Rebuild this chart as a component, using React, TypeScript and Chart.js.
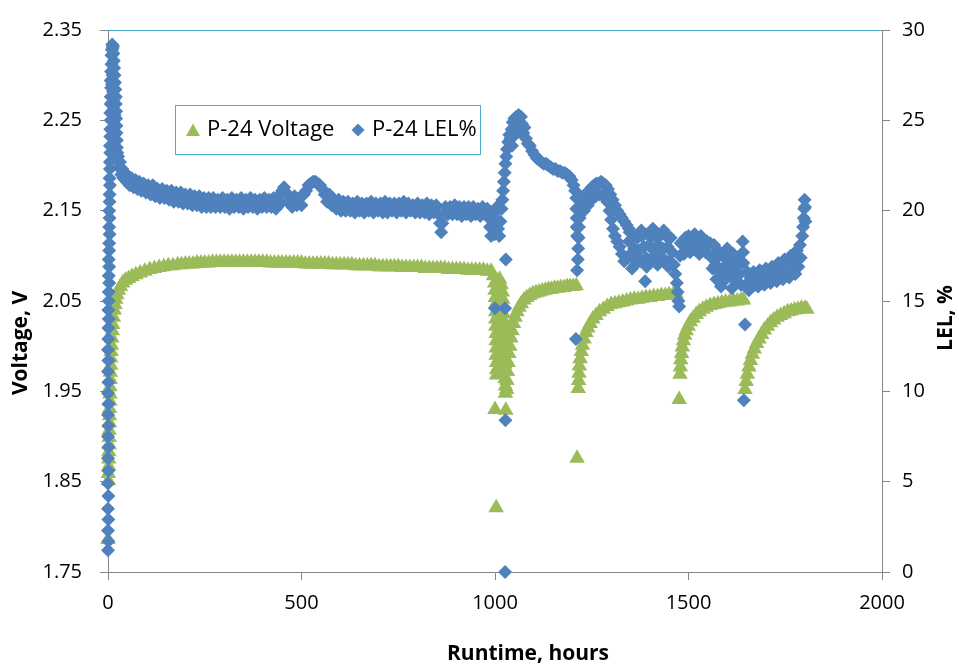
import React, { useEffect, useRef } from 'react';
import { Chart, registerables } from 'chart.js';

Chart.register(...registerables);

const GREEN = '#9BBB59';
const BLUE = '#4F81BD';
const AXIS = '#868686';
const FRAME = '#4BACC6';
const FONT = "'Open Sans', 'Liberation Sans', sans-serif";

const seriesNames = ['P-24 Voltage', 'P-24 LEL%'];
const xTitle = 'Runtime, hours';
const yTitle = 'Voltage, V';
const y1Title = 'LEL, %';
const runtimeTicks = [0, 500, 1000, 1500, 2000];
const voltageTicks = [1.75, 1.85, 1.95, 2.05, 2.15, 2.25, 2.35];
const lelTicks = [0, 5, 10, 15, 20, 25, 30];

// [runtime hours, voltage V]
const voltagePoints: [number, number][] = [
  [0, 1.786],
  [1, 1.851], [1, 1.859], [2, 1.867], [2, 1.875], [2, 1.883], [3, 1.891], [3, 1.899], [3, 1.907],
  [4, 1.915], [4, 1.923], [4, 1.931], [5, 1.939], [5, 1.947], [5, 1.955], [6, 1.963], [6, 1.971],
  [7, 1.979], [7, 1.987], [8, 1.994], [9, 2.001], [10, 2.009], [11, 2.017], [12, 2.024], [14, 2.032],
  [16, 2.04], [18, 2.046], [20, 2.052], [23, 2.057], [27, 2.062], [32, 2.066], [38, 2.07], [45, 2.073],
  [53, 2.075], [62, 2.077], [72, 2.079], [83, 2.081], [95, 2.083], [108, 2.085], [120, 2.086],
  [132, 2.087], [144, 2.088], [156, 2.089], [168, 2.089], [180, 2.09], [190, 2.09],
  [200, 2.091], [210, 2.091], [220, 2.091], [230, 2.092], [240, 2.092], [250, 2.092], [260, 2.092],
  [270, 2.093], [280, 2.093], [290, 2.093], [300, 2.093], [310, 2.093], [320, 2.093], [330, 2.093],
  [340, 2.093], [350, 2.093], [360, 2.093], [370, 2.093], [380, 2.093], [390, 2.093], [400, 2.093],
  [410, 2.093], [420, 2.092], [430, 2.092], [440, 2.092], [450, 2.092], [460, 2.092], [470, 2.092],
  [480, 2.092], [490, 2.092], [500, 2.092], [510, 2.091], [520, 2.091], [530, 2.091], [540, 2.091],
  [550, 2.091], [560, 2.091], [570, 2.091], [580, 2.09], [590, 2.09], [600, 2.09], [610, 2.09],
  [620, 2.09], [630, 2.09], [640, 2.089], [650, 2.089], [660, 2.089], [670, 2.089], [680, 2.089],
  [690, 2.089], [700, 2.088], [710, 2.088], [720, 2.088], [730, 2.088], [740, 2.088], [750, 2.088],
  [760, 2.087], [770, 2.087], [780, 2.087], [790, 2.087], [800, 2.087], [810, 2.087], [820, 2.086],
  [830, 2.086], [840, 2.086], [850, 2.086], [860, 2.086], [870, 2.086], [880, 2.085], [890, 2.085],
  [900, 2.085], [910, 2.085], [920, 2.085], [930, 2.084], [940, 2.084], [950, 2.084], [960, 2.084],
  [970, 2.084], [980, 2.083], [990, 2.083],
  [996, 2.078], [999, 2.07], [1000, 2.062], [1001, 2.054], [1001, 2.046], [1002, 2.038], [1002, 2.03],
  [1002, 2.022], [1003, 2.014], [1003, 2.006], [1003, 1.998], [1003, 1.99], [1004, 1.982], [1004, 1.974],
  [1004, 1.968], [1000, 1.93], [1003, 1.821],
  [1008, 2.072], [1010, 2.056], [1012, 2.04], [1013, 2.024], [1014, 2.008], [1015, 1.992],
  [1012, 2.074], [1016, 2.068], [1019, 2.06], [1020, 2.052], [1021, 2.044], [1022, 2.036], [1022, 2.028],
  [1023, 2.02], [1023, 2.012], [1024, 2.004], [1024, 1.996], [1025, 1.988], [1025, 1.98], [1026, 1.972],
  [1026, 1.964], [1027, 1.956], [1027, 1.948], [1028, 1.929],
  [1030, 1.952], [1031, 1.962], [1032, 1.972], [1034, 1.982], [1036, 1.992], [1038, 2.0], [1041, 2.009],
  [1044, 2.017], [1048, 2.025], [1052, 2.032], [1057, 2.038], [1062, 2.043], [1068, 2.047], [1075, 2.051],
  [1082, 2.054], [1090, 2.056], [1098, 2.058], [1106, 2.059], [1114, 2.06], [1122, 2.061], [1130, 2.062],
  [1138, 2.063], [1146, 2.063], [1154, 2.064], [1162, 2.064], [1170, 2.065], [1178, 2.065], [1186, 2.066],
  [1194, 2.066], [1202, 2.066], [1210, 2.067],
  [1212, 1.876],
  [1215, 1.953], [1216, 1.962], [1217, 1.97], [1218, 1.978], [1220, 1.986], [1223, 1.994], [1226, 2.001],
  [1230, 2.008], [1235, 2.015], [1240, 2.02], [1246, 2.025], [1253, 2.03], [1261, 2.034], [1270, 2.038],
  [1280, 2.041], [1290, 2.044], [1300, 2.046], [1310, 2.047], [1320, 2.048], [1330, 2.049], [1340, 2.05],
  [1350, 2.051], [1360, 2.052], [1370, 2.052], [1380, 2.053], [1390, 2.054], [1400, 2.054], [1410, 2.055],
  [1420, 2.055], [1430, 2.056], [1440, 2.056], [1450, 2.057], [1460, 2.057], [1468, 2.058],
  [1476, 1.941],
  [1478, 1.969], [1479, 1.977], [1480, 1.985], [1482, 1.992], [1484, 1.999], [1487, 2.006], [1490, 2.012],
  [1494, 2.017], [1499, 2.022], [1505, 2.027], [1512, 2.031], [1520, 2.035], [1528, 2.038], [1537, 2.041],
  [1546, 2.043], [1556, 2.045], [1566, 2.046], [1576, 2.047], [1586, 2.048], [1596, 2.049], [1606, 2.049],
  [1616, 2.05], [1626, 2.05], [1636, 2.051], [1642, 2.051],
  [1646, 1.952], [1649, 1.961], [1652, 1.969], [1656, 1.977], [1660, 1.984], [1665, 1.991], [1670, 1.997],
  [1676, 2.003], [1682, 2.008], [1689, 2.013], [1696, 2.018], [1704, 2.022], [1712, 2.026], [1720, 2.029],
  [1729, 2.032], [1738, 2.034], [1747, 2.036], [1756, 2.038], [1765, 2.039], [1774, 2.04], [1783, 2.041],
  [1792, 2.042], [1801, 2.042], [1806, 2.041],
];

// [runtime hours, LEL %]
const lelPoints: [number, number][] = [
  [0, 1.2], [1, 1.7], [0, 2.3], [1, 2.9], [0, 3.5], [1, 4.2], [0, 4.9], [1, 5.6], [0, 6.3], [1, 6.9],
  [0, 7.5], [1, 8.1], [0, 8.7], [1, 9.3], [0, 9.9], [1, 10.5], [0, 11.1], [1, 11.7], [0, 12.3], [1, 12.9],
  [1, 13.5], [2, 14.0], [1, 14.5], [2, 15.0],
  [2, 15.5], [3, 16.0], [2, 16.4], [3, 16.9], [2, 17.3], [3, 17.8], [3, 18.2], [4, 18.7], [3, 19.1],
  [4, 19.6], [3, 20.0], [4, 20.5], [4, 20.9], [5, 21.4], [4, 21.8], [5, 22.3], [5, 22.7], [6, 23.2],
  [5, 23.6], [6, 24.1], [6, 24.5], [7, 25.0], [6, 25.4], [7, 25.9], [7, 26.3], [8, 26.8], [7, 27.2],
  [8, 27.7], [9, 28.1], [9, 28.6],
  [10, 28.9], [11, 29.2], [12, 29.0], [13, 29.1], [14, 28.7], [15, 28.3], [16, 27.9], [17, 27.5],
  [10, 27.0], [11, 26.0], [12, 25.0], [13, 24.0], [12, 27.5], [13, 26.6], [14, 25.6], [15, 24.6],
  [14, 27.0], [16, 26.2], [17, 25.3], [16, 24.2],
  [18, 27.1], [19, 26.7], [20, 26.3], [20, 25.9], [21, 25.5], [21, 25.1], [22, 24.7], [22, 24.3],
  [23, 23.9], [23, 23.5], [24, 23.2],
  [26, 23.0], [28, 22.4], [31, 22.7], [34, 22.0], [37, 22.3], [40, 21.8], [44, 22.1], [48, 21.6],
  [52, 21.9], [56, 21.4], [61, 21.8], [66, 21.3], [71, 21.7], [76, 21.2], [81, 21.6], [86, 21.1],
  [92, 21.5], [98, 21.0], [104, 21.4], [110, 20.9], [116, 21.4], [122, 20.8], [128, 21.2], [134, 20.7],
  [140, 21.2], [146, 20.7], [152, 21.1], [158, 20.6], [164, 21.1], [170, 20.5], [176, 21.0], [182, 20.5],
  [188, 21.0], [194, 20.4], [200, 20.9], [206, 20.4], [212, 20.9], [218, 20.3], [224, 20.8], [230, 20.3],
  [236, 20.8], [242, 20.2], [248, 20.7], [254, 20.2], [260, 20.7], [266, 20.2], [272, 20.7], [278, 20.2],
  [284, 20.6], [290, 20.2], [296, 20.7], [302, 20.2], [308, 20.6], [314, 20.1], [320, 20.7], [326, 20.2],
  [332, 20.6], [338, 20.2], [344, 20.7], [350, 20.1], [356, 20.6], [362, 20.2], [368, 20.7], [374, 20.2],
  [380, 20.6], [386, 20.1], [392, 20.6], [398, 20.2], [404, 20.7], [410, 20.2], [416, 20.6], [422, 20.2],
  [428, 20.7], [434, 20.1], [440, 20.8], [446, 20.4], [450, 21.1], [455, 21.3], [460, 21.0], [465, 20.5],
  [470, 20.7], [476, 20.2], [482, 20.8], [488, 20.3], [494, 20.7], [500, 20.3], [506, 20.9], [512, 21.1],
  [518, 21.4], [524, 21.5], [530, 21.6], [536, 21.6], [542, 21.5], [548, 21.4], [554, 21.2], [560, 20.9],
  [566, 20.5], [572, 20.9], [578, 20.3], [584, 20.6], [590, 20.1], [596, 20.6], [602, 20.0], [608, 20.5],
  [614, 20.0], [620, 20.5], [626, 20.0], [632, 20.4], [638, 19.9], [644, 20.5], [650, 20.0], [656, 20.4],
  [662, 19.9], [668, 20.4], [674, 20.0], [680, 20.5], [686, 19.9], [692, 20.4], [698, 20.0], [704, 20.4],
  [710, 19.9], [716, 20.5], [722, 19.9], [728, 20.4], [734, 20.0], [740, 20.4], [746, 19.9], [752, 20.4],
  [758, 20.0], [764, 20.5], [770, 19.9], [776, 20.4], [782, 20.0], [788, 20.3], [794, 19.9], [800, 20.4],
  [806, 19.9], [812, 20.3], [818, 19.9], [824, 20.4], [830, 19.8], [836, 20.3], [842, 19.9], [848, 20.3],
  [854, 19.8], [858, 19.3], [861, 18.8], [864, 19.3], [868, 19.8], [872, 20.2], [878, 19.8], [884, 20.2],
  [890, 19.8], [896, 20.3], [902, 19.8], [908, 20.2], [914, 19.7], [920, 20.2], [926, 19.8], [932, 20.2],
  [938, 19.7], [944, 20.2], [950, 19.8], [956, 20.1], [962, 19.7], [968, 20.2], [974, 19.8], [980, 20.1],
  [984, 19.6], [987, 19.1], [990, 18.6], [994, 19.2], [996, 19.8], [999, 18.7], [1002, 19.5],
  [1000, 14.6], [1026, 14.6], [1027, 8.4], [1026, 0.0], [1028, 17.3],
  [1005, 20.2], [1008, 19.0], [1011, 18.6], [1014, 19.4], [1017, 20.1], [1019, 20.6], [1021, 21.1],
  [1023, 21.6], [1025, 22.1], [1027, 22.6], [1029, 23.0], [1031, 23.4], [1034, 23.8], [1037, 24.2],
  [1040, 24.0], [1043, 24.5], [1044, 23.6], [1046, 24.9], [1050, 25.1], [1052, 24.2], [1055, 25.2],
  [1058, 24.6], [1061, 25.3], [1064, 24.4], [1067, 25.2], [1070, 24.8], [1073, 24.3], [1076, 24.6],
  [1080, 24.0], [1085, 23.7], [1090, 23.6], [1096, 23.3], [1102, 23.1], [1108, 22.9], [1114, 22.8],
  [1120, 22.7], [1126, 22.6], [1132, 22.6], [1138, 22.5], [1144, 22.4], [1150, 22.3], [1156, 22.3],
  [1162, 22.2], [1168, 22.2], [1174, 22.1], [1180, 22.1], [1186, 22.0], [1192, 21.9], [1198, 21.7],
  [1203, 21.4], [1207, 21.1], [1210, 20.7], [1210, 20.1], [1211, 19.6], [1211, 19.1], [1212, 18.6],
  [1212, 16.7], [1209, 12.9],
  [1214, 17.3], [1215, 17.9], [1216, 18.5], [1217, 19.1], [1219, 19.6], [1221, 20.0], [1224, 20.4],
  [1228, 20.6], [1233, 20.9], [1238, 21.0], [1244, 21.1], [1250, 21.3], [1256, 21.4], [1262, 21.5],
  [1268, 21.5], [1274, 21.6], [1280, 21.5], [1286, 21.4], [1292, 21.2], [1298, 20.9], [1304, 20.6],
  [1310, 20.3], [1316, 20.0], [1322, 19.8], [1328, 19.6], [1334, 19.4], [1340, 19.2], [1346, 19.0],
  [1230, 20.0], [1240, 20.3], [1250, 20.6], [1260, 20.8], [1270, 20.9], [1280, 20.8], [1290, 20.5],
  [1296, 20.0], [1300, 19.5], [1305, 19.0], [1310, 18.6], [1316, 18.3], [1322, 18.0], [1328, 17.6],
  [1334, 17.2],
  [1346, 18.3], [1350, 17.6], [1354, 16.8], [1356, 18.7], [1360, 17.9], [1364, 17.3], [1368, 18.5],
  [1372, 17.8], [1376, 17.2], [1380, 18.6], [1384, 18.0], [1388, 16.1], [1390, 17.4], [1394, 18.7],
  [1398, 18.1], [1402, 17.3], [1406, 18.6], [1410, 17.8], [1414, 17.2], [1418, 18.5], [1422, 18.1],
  [1426, 17.4], [1430, 18.7], [1434, 17.9], [1438, 17.3], [1442, 18.6], [1446, 18.0], [1450, 17.2],
  [1454, 18.5], [1458, 17.7],
  [1348, 18.8], [1362, 17.0], [1378, 18.9], [1392, 16.9], [1408, 19.0], [1420, 17.0], [1436, 18.9],
  [1448, 16.9],
  [1462, 17.0], [1466, 16.5], [1470, 16.0], [1472, 15.5], [1474, 15.0], [1476, 14.7], [1478, 17.5],
  [1480, 18.2],
  [1484, 18.3], [1488, 17.6], [1492, 18.5], [1496, 17.8], [1500, 18.6], [1504, 17.7], [1508, 18.4],
  [1512, 17.9], [1516, 18.7], [1520, 17.8], [1524, 18.5], [1528, 17.6], [1532, 18.6], [1536, 17.9],
  [1540, 18.4], [1544, 17.7], [1548, 18.3], [1552, 17.6], [1556, 18.2], [1560, 17.4],
  [1498, 18.1], [1514, 18.2], [1530, 18.1], [1546, 18.0],
  [1562, 16.8], [1566, 18.1], [1570, 17.0], [1572, 16.2], [1576, 17.8], [1580, 16.6], [1584, 15.8],
  [1588, 17.5], [1592, 16.9], [1596, 16.2], [1600, 17.9], [1604, 17.2], [1608, 16.4], [1612, 15.7],
  [1616, 17.6], [1620, 16.8], [1624, 16.0], [1628, 17.3], [1632, 16.5], [1636, 15.9], [1640, 18.3],
  [1641, 17.7], [1642, 17.1],
  [1574, 17.4], [1590, 16.6], [1606, 17.0], [1618, 16.3], [1630, 17.0],
  [1643, 9.5], [1646, 13.7],
  [1648, 15.9], [1652, 16.6], [1656, 15.6], [1660, 16.3], [1664, 15.8], [1668, 16.6], [1672, 15.9],
  [1676, 16.3], [1680, 15.8], [1684, 16.7], [1688, 16.0], [1692, 16.4], [1696, 15.9], [1700, 16.8],
  [1704, 16.1], [1708, 16.6], [1712, 16.0], [1716, 16.9], [1720, 16.2], [1724, 16.7], [1728, 16.1],
  [1732, 17.1], [1736, 16.3], [1740, 16.9], [1744, 16.2], [1748, 17.3], [1752, 16.4], [1756, 17.0],
  [1760, 16.3], [1764, 17.5], [1768, 16.6], [1772, 17.3], [1776, 16.5], [1780, 17.8], [1784, 16.9],
  [1788, 18.1], [1790, 17.4],
  [1794, 18.6], [1796, 19.1], [1798, 19.6], [1799, 20.1], [1800, 20.6], [1801, 20.2], [1802, 19.4],
];

function drawRotatedText(ctx: CanvasRenderingContext2D, text: string, x: number, y: number) {
  ctx.save();
  ctx.translate(x, y);
  ctx.rotate(-Math.PI / 2);
  ctx.fillText(text, 0, 0);
  ctx.restore();
}

const decorPlugin = {
  id: 'decor',
  beforeDatasetsDraw(chart: any) {
    const { ctx, chartArea: a } = chart;
    ctx.save();
    ctx.strokeStyle = FRAME;
    ctx.lineWidth = 1;
    ctx.beginPath();
    ctx.moveTo(a.left, Math.round(a.top) + 0.5);
    ctx.lineTo(a.right, Math.round(a.top) + 0.5);
    ctx.stroke();
    ctx.restore();
  },
  afterDraw(chart: any) {
    const ctx: CanvasRenderingContext2D = chart.ctx;
    ctx.save();
    ctx.fillStyle = '#000';
    ctx.font = `bold 21px ${FONT}`;
    ctx.textAlign = 'center';
    ctx.textBaseline = 'middle';
    drawRotatedText(ctx, yTitle, 21, 343);
    drawRotatedText(ctx, y1Title, 946, 318);
    ctx.fillText(xTitle, 528, 654);

    // legend box
    const bx = 175.5, by = 105.5, bw = 305, bh = 49;
    ctx.fillStyle = '#fff';
    ctx.fillRect(bx, by, bw, bh);
    ctx.strokeStyle = FRAME;
    ctx.lineWidth = 1;
    ctx.strokeRect(bx, by, bw, bh);

    // triangle icon
    ctx.fillStyle = GREEN;
    ctx.beginPath();
    ctx.moveTo(193, 123.5);
    ctx.lineTo(200, 136);
    ctx.lineTo(186, 136);
    ctx.closePath();
    ctx.fill();
    // diamond icon
    ctx.fillStyle = BLUE;
    ctx.beginPath();
    ctx.moveTo(358, 123.5);
    ctx.lineTo(364.5, 130);
    ctx.lineTo(358, 136.5);
    ctx.lineTo(351.5, 130);
    ctx.closePath();
    ctx.fill();

    ctx.fillStyle = '#000';
    ctx.font = `22px ${FONT}`;
    ctx.textAlign = 'left';
    ctx.textBaseline = 'middle';
    ctx.fillText(seriesNames[0], 207, 130);
    ctx.fillText(seriesNames[1], 372, 130);
    ctx.restore();
  },
};

export default function App() {
  const canvasRef = useRef<HTMLCanvasElement | null>(null);

  useEffect(() => {
    document.body.style.margin = '0';
    const canvas = canvasRef.current;
    if (!canvas) return;

    const tickFont = { family: FONT, size: 20 };
    const gridOpts = {
      drawOnChartArea: false,
      drawTicks: true,
      tickLength: 8,
      color: AXIS,
      tickColor: AXIS,
      lineWidth: 1,
    };
    const borderOpts = { display: true, color: AXIS, width: 1 };

    const chart = new Chart(canvas, {
      type: 'scatter',
      data: {
        datasets: [
          {
            label: seriesNames[0],
            data: voltagePoints.map(([x, y]) => ({ x, y })),
            yAxisID: 'y',
            pointStyle: 'triangle',
            pointRadius: 9,
            pointHoverRadius: 9,
            backgroundColor: GREEN,
            borderColor: GREEN,
            borderWidth: 0,
            clip: false,
            order: 2,
          },
          {
            label: seriesNames[1],
            data: lelPoints.map(([x, y]) => ({ x, y })),
            yAxisID: 'y1',
            pointStyle: 'rectRot',
            pointRadius: 7,
            pointHoverRadius: 7,
            backgroundColor: BLUE,
            borderColor: BLUE,
            borderWidth: 0,
            clip: false,
            order: 1,
          },
        ],
      },
      options: {
        responsive: false,
        maintainAspectRatio: false,
        animation: false,
        devicePixelRatio: 1,
        events: [],
        layout: { padding: { top: 20, left: 0, right: 0, bottom: 0 }, autoPadding: false },
        plugins: {
          legend: { display: false },
          tooltip: { enabled: false },
          title: { display: false },
        },
        scales: {
          x: {
            type: 'linear',
            position: 'bottom',
            min: 0,
            max: 2000,
            afterBuildTicks: (axis: any) => {
              axis.ticks = runtimeTicks.map((v) => ({ value: v }));
            },
            afterFit: (axis: any) => {
              axis.height = 96;
            },
            ticks: {
              font: tickFont,
              color: '#000',
              padding: 11,
              maxRotation: 0,
              callback: (v: any) => String(v),
            },
            grid: gridOpts,
            border: borderOpts,
          },
          y: {
            type: 'linear',
            position: 'left',
            min: 1.75,
            max: 2.35,
            afterBuildTicks: (axis: any) => {
              axis.ticks = voltageTicks.map((v) => ({ value: v }));
            },
            afterFit: (axis: any) => {
              axis.width = 108;
            },
            ticks: {
              font: tickFont,
              color: '#000',
              padding: 18,
              callback: (v: any) => Number(v).toFixed(2),
            },
            grid: gridOpts,
            border: borderOpts,
          },
          y1: {
            type: 'linear',
            position: 'right',
            min: 0,
            max: 30,
            afterBuildTicks: (axis: any) => {
              axis.ticks = lelTicks.map((v) => ({ value: v }));
            },
            afterFit: (axis: any) => {
              axis.width = 77;
            },
            ticks: {
              font: tickFont,
              color: '#000',
              padding: 12,
              callback: (v: any) => String(v),
            },
            grid: gridOpts,
            border: borderOpts,
          },
        },
      },
      plugins: [decorPlugin],
    } as any);

    return () => {
      chart.destroy();
    };
  }, []);

  return (
    <div style={{ width: 959, height: 668, position: 'relative', background: '#fff' }}>
      <canvas ref={canvasRef} width={959} height={668} style={{ display: 'block', width: 959, height: 668 }} />
    </div>
  );
}
